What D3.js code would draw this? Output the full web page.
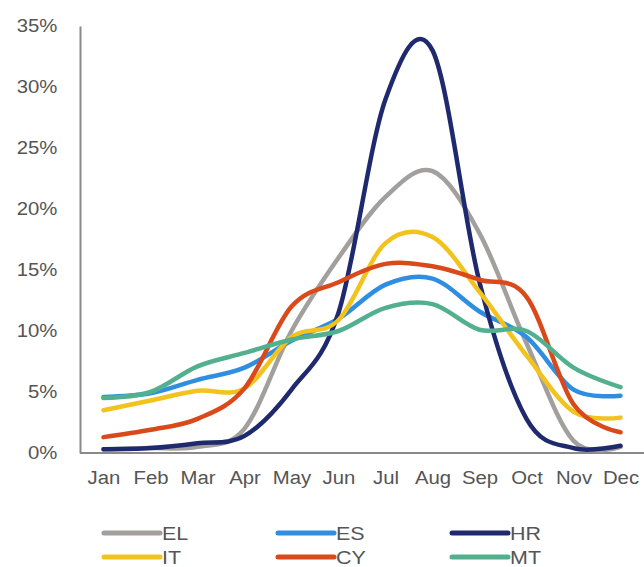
<!DOCTYPE html>
<html>
<head>
<meta charset="utf-8">
<script src="https://cdn.jsdelivr.net/npm/d3@7"></script>
<style>
  html, body { margin: 0; padding: 0; background: #fff; }
  svg { display: block; font-family: "Liberation Sans", Arial, sans-serif; }
</style>
</head>
<body>
<svg id="chart" width="644" height="567"></svg>
<script>
const months = ["Jan","Feb","Mar","Apr","May","Jun","Jul","Aug","Sep","Oct","Nov","Dec"];
const yTicks = [0, 5, 10, 15, 20, 25, 30, 35];
const seriesNames = ["EL","ES","HR","IT","CY","MT"];
const seriesColors = ["#a39f9c","#2f8ee0","#1f2a6e","#f1c31c","#d9491a","#52b08f"];
const EL = [0.3, 0.4, 0.5, 2.0, 10.0, 16.0, 21.0, 23.1, 18.0, 9.0, 1.0, 0.5];
const ES = [4.6, 4.9, 6.0, 7.0, 9.2, 11.0, 13.8, 14.3, 11.6, 9.5, 5.2, 4.7];
const HR = [0.3, 0.4, 0.8, 1.4, 5.2, 11.5, 29.0, 33.0, 14.0, 2.8, 0.4, 0.6];
const IT = [3.5, 4.3, 5.1, 5.3, 9.5, 10.9, 17.2, 17.7, 13.2, 8.0, 3.4, 2.9];
const CY = [1.3, 1.9, 2.8, 5.3, 12.0, 14.0, 15.5, 15.3, 14.2, 12.8, 4.0, 1.7];
const MT = [4.5, 5.0, 7.1, 8.2, 9.3, 10.0, 11.9, 12.2, 10.1, 10.0, 7.0, 5.4];
const seriesValues = [EL, ES, HR, IT, CY, MT];

const svg = d3.select("#chart");
const plotLeft = 80, plotRight = 644, plotTop = 26, plotBottom = 453;
const textColor = "#555555";
const axisColor = "#8a8a8a";
const sx = 1.13;

const x = d3.scalePoint().domain(months).range([plotLeft, plotRight]).padding(0.5);
const y = d3.scaleLinear().domain([0, 35]).range([plotBottom, plotTop]);

// Y axis
const yAxis = svg.append("g")
  .attr("transform", `translate(${plotLeft},0)`)
  .call(d3.axisLeft(y).tickValues(yTicks).tickSize(0).tickPadding(20).tickFormat(d => d + "%"));
yAxis.select(".domain").attr("stroke", axisColor).attr("stroke-width", 2);
yAxis.selectAll("text")
  .attr("fill", textColor).style("font-size", "18px")
  .attr("transform", `scale(${sx},1)`);

// X axis
const xAxis = svg.append("g")
  .attr("transform", `translate(0,${plotBottom})`)
  .call(d3.axisBottom(x).tickSize(0).tickPadding(18));
xAxis.select(".domain").attr("stroke", axisColor).attr("stroke-width", 2)
  .attr("d", `M${plotLeft},0H${plotRight}`);
xAxis.selectAll("text")
  .attr("fill", textColor).style("font-size", "18px")
  .attr("transform", `scale(${sx},1)`);

// Lines
const line = d3.line()
  .x((d, i) => x(months[i]))
  .y(d => y(d))
  .curve(d3.curveCatmullRom.alpha(0));

svg.append("g").selectAll("path")
  .data(seriesValues)
  .join("path")
  .attr("d", d => line(d))
  .attr("fill", "none")
  .attr("stroke", (d, i) => seriesColors[i])
  .attr("stroke-width", 4.5)
  .attr("stroke-linecap", "round")
  .attr("stroke-linejoin", "round");

// Legend
const legCols = [104, 278, 452];
const legRows = [533, 557];
const legend = svg.append("g");
seriesNames.forEach((name, i) => {
  const cx = legCols[i % 3], cy = legRows[Math.floor(i / 3)];
  legend.append("line")
    .attr("x1", cx).attr("x2", cx + 56)
    .attr("y1", cy).attr("y2", cy)
    .attr("stroke", seriesColors[i]).attr("stroke-width", 5)
    .attr("stroke-linecap", "round");
  legend.append("text")
    .attr("transform", `translate(${cx + 58},${cy + 7}) scale(${sx},1)`)
    .attr("fill", textColor).style("font-size", "19px")
    .text(name);
});
</script>
</body>
</html>
